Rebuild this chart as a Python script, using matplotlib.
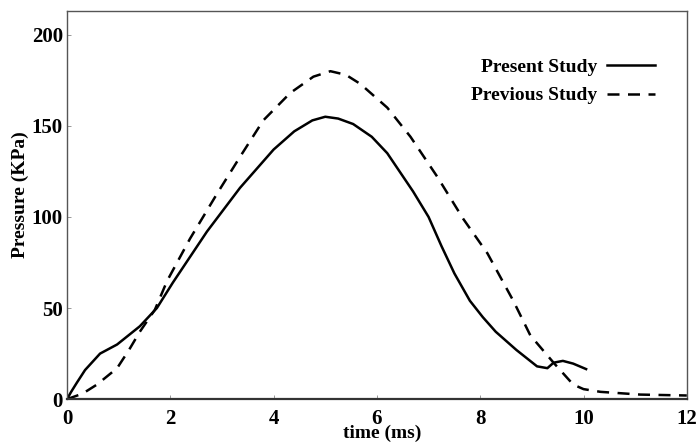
import matplotlib
matplotlib.use("Agg")
import matplotlib.pyplot as plt

# ---- data ------------------------------------------------------------------
present_t = [0, 0.08, 0.19, 0.35, 0.64, 0.97, 1.41, 1.74, 2.05, 2.71, 3.35,
             4.0, 4.4, 4.75, 5.0, 5.25, 5.54, 5.9, 6.2, 6.7, 7.0, 7.25, 7.5,
             7.8, 8.05, 8.3, 8.7, 9.1, 9.3, 9.42, 9.6, 9.8, 10.05]
present_p = [0, 4, 9, 16, 25, 30, 40, 50, 64, 92, 116,
             137, 147, 153, 155, 154, 151, 144, 135, 114, 100, 84, 69,
             54, 45, 37, 27, 18, 17, 20, 21, 19.5, 16.5]

previous_t = [0, 0.3, 0.58, 0.97, 1.2, 1.41, 1.7, 1.94, 2.38, 2.91, 3.35,
              3.8, 4.32, 4.77, 5.1, 5.4, 5.68, 6.2, 6.65, 7.17, 7.67, 8.14,
              8.64, 8.97, 9.42, 9.8, 10.0, 10.33, 11.1, 12.0]
previous_p = [0, 3, 8, 17, 27, 37, 49, 65, 88, 113, 133,
              153, 168, 177, 180, 178, 173, 160, 144, 122, 99, 80,
              54, 35, 20, 8, 5.5, 4, 2.5, 2]

xticks = [0, 2, 4, 6, 8, 10, 12]
yticks = [0, 50, 100, 150, 200]

SERIF = "Liberation Serif"

fig = plt.figure(figsize=(6.98, 4.43), dpi=100)
ax = fig.add_axes([0.096, 0.099, 0.888, 0.876])

ax.plot(present_t, present_p, color="black", lw=1.8, label="Present Study")
ax.plot(previous_t, previous_p, color="black", lw=1.8, dashes=(4.8, 3.4),
        label="Previous Study")

ax.set_xlim(0, 12)
ax.set_ylim(0, 213)
ax.set_xticks(xticks)
ax.set_yticks(yticks)
ax.tick_params(direction="in", length=3, width=0.6, color="#888888",
               labelsize=15)
ax.tick_params(axis="x", pad=7)
ax.tick_params(axis="y", pad=3)
for lab in ax.get_xticklabels() + ax.get_yticklabels():
    lab.set_fontfamily(SERIF)
    lab.set_fontweight("bold")

for s in ax.spines.values():
    s.set_color("#555555")
    s.set_linewidth(1.0)
ax.spines["bottom"].set_linewidth(1.6)
ax.spines["bottom"].set_color("#333333")

ax.set_xlabel("time (ms)", family=SERIF, fontweight="bold", fontsize=14)
ax.xaxis.set_label_coords(0.509, -0.067)
ax.set_ylabel("Pressure (KPa)", family=SERIF, fontweight="bold", fontsize=14)
ax.yaxis.set_label_coords(-0.061, 0.526)

leg = ax.legend(loc="upper right", bbox_to_anchor=(0.948, 0.878),
                frameon=False, markerfirst=False, handlelength=2.45,
                handletextpad=0.5, labelspacing=0.55, borderpad=0,
                borderaxespad=0,
                prop={"family": SERIF, "weight": "bold", "size": 14})

fig.savefig("out.png", dpi=100, facecolor="white")
